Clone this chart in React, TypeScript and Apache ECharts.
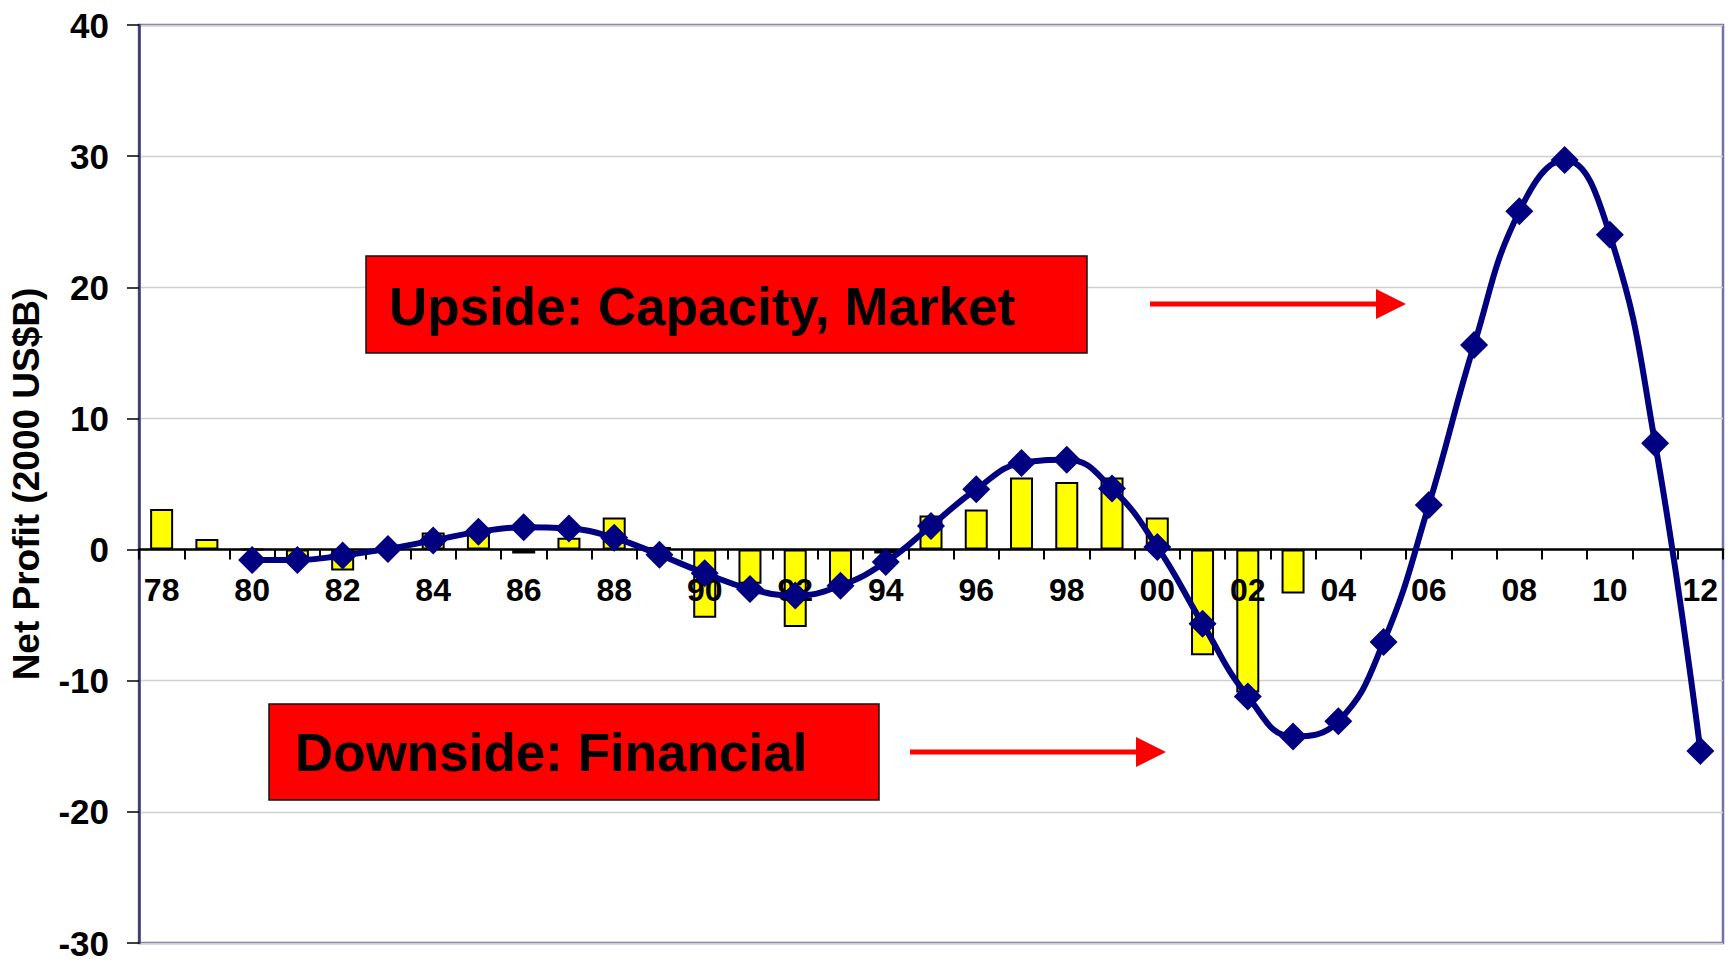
import React, { useEffect, useRef } from "react";
import * as echarts from "echarts";

const years = [
  "78", "79", "80", "81", "82", "83", "84", "85", "86", "87", "88", "89",
  "90", "91", "92", "93", "94", "95", "96", "97", "98", "99", "00", "01",
  "02", "03", "04", "05", "06", "07", "08", "09", "10", "11", "12",
];

// yellow bars: actual net profit (1978-2003)
const barValues: (number | null)[] = [
  3.1, 0.8, 0, -0.6, -1.6, 0, 1.3, 1.2, -0.3, 0.9, 2.45, 0.2,
  -5.2, -2.6, -5.9, -2.7, -0.3, 2.6, 3.05, 5.5, 5.15, 5.5, 2.45, -8.05,
  -10.9, -3.35, null, null, null, null, null, null, null, null, null,
];

// navy smoothed line with diamond markers (1980-2012)
const lineValues: (number | null)[] = [
  null, null, -0.8, -0.8, -0.45, 0.05, 0.7, 1.35, 1.7, 1.6, 0.9, -0.4,
  -1.8, -3.0, -3.5, -2.75, -0.95, 1.8, 4.6, 6.6, 6.85, 4.65, 0.2, -5.65,
  -11.2, -14.25, -13.1, -7.05, 3.4, 15.6, 25.8, 29.7, 24.0, 8.1, -15.35,
];

const yTicks = { min: -30, max: 40, interval: 10 };
const yAxisTitle = "Net Profit (2000 US$B)";
const upsideText = "Upside: Capacity, Market";
const downsideText = "Downside: Financial";

const FONT = 'Arial, "Liberation Sans", Helvetica, sans-serif';

const GRID_TOP = 25;
const GRID_BOTTOM = 19;
const CHART_H = 962;

export default function App() {
  const ref = useRef<HTMLDivElement>(null);

  useEffect(() => {
    if (!ref.current) return;
    const chart = echarts.init(ref.current, undefined, { renderer: "svg" });
    const plotH = CHART_H - GRID_TOP - GRID_BOTTOM;
    // distance from the plot bottom (-30) to the zero line
    const zeroOffset = (plotH * (0 - yTicks.min)) / (yTicks.max - yTicks.min);
    const option: any = {
      animation: false,
      backgroundColor: "#ffffff",
      grid: {
        left: 138,
        right: 9,
        top: GRID_TOP,
        bottom: GRID_BOTTOM,
        show: true,
        borderColor: "#7272A6",
        borderWidth: 2.5,
        backgroundColor: "transparent",
      },
      xAxis: {
        type: "category",
        data: years,
        boundaryGap: true,
        position: "bottom",
        offset: -zeroOffset,
        z: 3,
        axisLine: { onZero: false, lineStyle: { color: "#000", width: 2.5 } },
        axisTick: {
          show: true,
          interval: 0,
          alignWithLabel: false,
          length: 10,
          lineStyle: { color: "#000", width: 2 },
        },
        axisLabel: {
          interval: 1,
          margin: 24,
          color: "#000",
          fontFamily: FONT,
          fontWeight: "bold",
          fontSize: 32,
        },
        splitLine: { show: false },
      },
      yAxis: {
        type: "value",
        min: yTicks.min,
        max: yTicks.max,
        interval: yTicks.interval,
        name: yAxisTitle,
        nameLocation: "middle",
        nameGap: 94,
        nameRotate: 90,
        nameTextStyle: {
          color: "#000",
          fontFamily: FONT,
          fontWeight: "bold",
          fontSize: 37,
        },
        axisLine: { show: true, onZero: false, lineStyle: { color: "#3A3A6C", width: 2.5 } },
        axisTick: { show: true, length: 12, lineStyle: { color: "#000", width: 1.5 } },
        axisLabel: {
          margin: 30,
          color: "#000",
          fontFamily: FONT,
          fontWeight: "bold",
          fontSize: 35,
          lineHeight: 30,
        },
        splitLine: { show: true, lineStyle: { color: "#D0D0D0", width: 1.3 } },
      },
      series: [
        {
          type: "bar",
          data: barValues,
          barWidth: 23,
          z: 2,
          itemStyle: { color: "#FFFF00", borderColor: "#000", borderWidth: 2 },
        },
        {
          type: "line",
          data: lineValues,
          smooth: 0.45,
          z: 5,
          symbol: "diamond",
          symbolSize: 28,
          connectNulls: false,
          lineStyle: { color: "#000080", width: 6 },
          itemStyle: { color: "#000080" },
        },
      ],
      graphic: [
        {
          type: "rect",
          z: 10,
          shape: { x: 366, y: 256, width: 721, height: 97 },
          style: { fill: "#FF0000", stroke: "#111", lineWidth: 1.5 },
        },
        {
          type: "text",
          z: 11,
          x: 389,
          y: 306,
          style: {
            text: upsideText,
            fill: "#000",
            font: `bold 53px ${FONT}`,
            verticalAlign: "middle",
            align: "left",
            textShadowColor: "#FFFFFF",
            textShadowOffsetX: 2.5,
            textShadowOffsetY: 2.5,
            textShadowBlur: 0,
          },
        },
        {
          type: "rect",
          z: 10,
          shape: { x: 269, y: 704, width: 610, height: 96 },
          style: { fill: "#FF0000", stroke: "#111", lineWidth: 1.5 },
        },
        {
          type: "text",
          z: 11,
          x: 295,
          y: 752,
          style: {
            text: downsideText,
            fill: "#000",
            font: `bold 53px ${FONT}`,
            verticalAlign: "middle",
            align: "left",
            textShadowColor: "#FFFFFF",
            textShadowOffsetX: 2.5,
            textShadowOffsetY: 2.5,
            textShadowBlur: 0,
          },
        },
        {
          type: "line",
          z: 10,
          shape: { x1: 1150, y1: 304, x2: 1380, y2: 304 },
          style: { stroke: "#FF0000", lineWidth: 5 },
        },
        {
          type: "polygon",
          z: 10,
          shape: { points: [[1376, 289], [1406, 304], [1376, 319]] },
          style: { fill: "#FF0000" },
        },
        {
          type: "line",
          z: 10,
          shape: { x1: 910, y1: 752, x2: 1140, y2: 752 },
          style: { stroke: "#FF0000", lineWidth: 5 },
        },
        {
          type: "polygon",
          z: 10,
          shape: { points: [[1136, 737], [1166, 752], [1136, 767]] },
          style: { fill: "#FF0000" },
        },
      ],
    };
    chart.setOption(option);
    return () => {
      chart.dispose();
    };
  }, []);

  return (
    <div
      ref={ref}
      style={{ position: "absolute", left: 0, top: 0, width: 1732, height: 962 }}
    />
  );
}
